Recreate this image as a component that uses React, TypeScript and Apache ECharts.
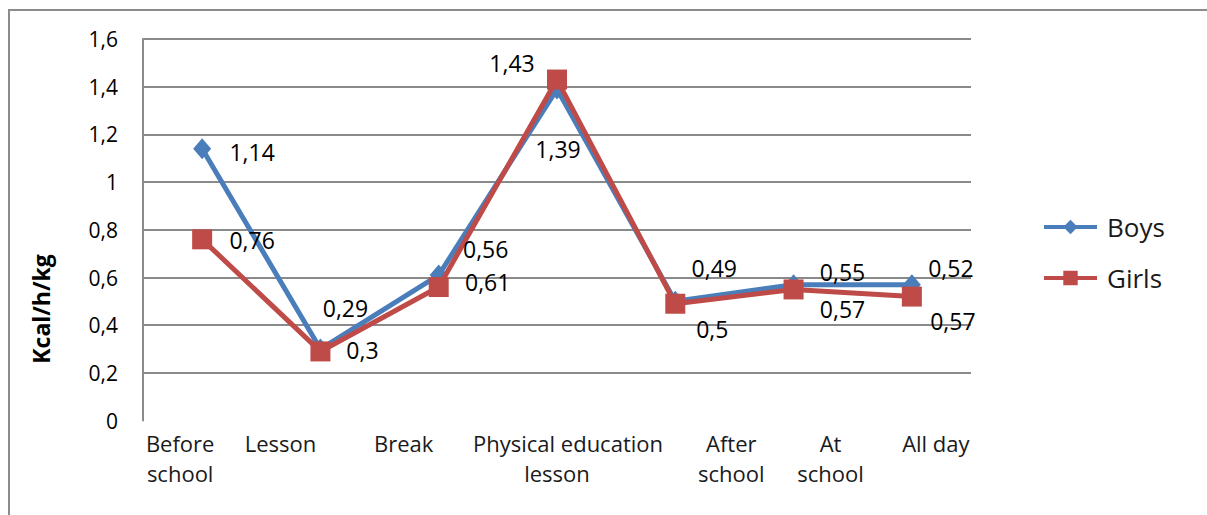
import React, { useEffect, useRef } from "react";
import * as echarts from "echarts";

const categories = [
  "Before school",
  "Lesson",
  "Break",
  "Physical education lesson",
  "After school",
  "At school",
  "All day",
];
const boys = [1.14, 0.3, 0.61, 1.39, 0.5, 0.57, 0.57];
const girls = [0.76, 0.29, 0.56, 1.43, 0.49, 0.55, 0.52];
const yTicks = { min: 0, max: 1.6, interval: 0.2 };
const yAxisTitle = "Kcal/h/kg";

// layout-only tables (label offsets, wrapped label lines)
const boysLabelOffsets = [[50, 3], [42, 1], [49, 7], [1, 60], [37, 28], [49, 24], [41, 36]];
const girlsLabelOffsets = [[50, 1], [25, -43], [47, -38], [-45, -17], [39, -36], [49, -17], [39, -29]];
const wrappedLines: string[][] = [
  ["Before", "school"],
  ["Lesson"],
  ["Break"],
  ["Physical education", "lesson"],
  ["After", "school"],
  ["At", "school"],
  ["All day"],
];
const lineShifts: number[][] = [[-22, -22], [-40], [-35], [11, 0], [56, 56], [37, 37], [24]];

const FONT = "Open Sans";
const BLUE = "#4A7EBB";
const RED = "#BE4B48";

const fmt = (v: number) => String(Math.round(v * 100) / 100).replace(".", ",");

export default function App() {
  const ref = useRef<HTMLDivElement>(null);
  useEffect(() => {
    if (!ref.current) return;
    const chart = echarts.init(ref.current, undefined, { renderer: "svg" });

    const rich: Record<string, any> = {};
    lineShifts.forEach((shifts, i) => {
      shifts.forEach((s, j) => {
        rich[`c${i}_${j}`] = {
          fontFamily: FONT,
          fontSize: 22,
          color: "#1a1a1a",
          lineHeight: 30,
          padding: s >= 0 ? [0, 0, 0, 2 * s] : [0, -2 * s, 0, 0],
        };
      });
    });

    const labelBase = {
      show: true,
      position: "inside" as const,
      fontFamily: FONT,
      fontSize: 23,
      lineHeight: 23,
      color: "#000",
      align: "center" as const,
      verticalAlign: "middle" as const,
      formatter: (p: any) => fmt(p.value),
    };

    chart.setOption({
      animation: false,
      backgroundColor: "#fff",
      grid: { left: 143, right: 1207 - 971, top: 39, bottom: 515 - 420.6, containLabel: false },
      legend: {
        orient: "vertical",
        left: 1037,
        top: 209,
        itemWidth: 53,
        itemHeight: 18,
        itemGap: 25,
        lineStyle: { width: 4 },
        textStyle: { fontFamily: FONT, fontSize: 26, color: "#1a1a1a", padding: [0, 0, 0, 5] },
        data: ["Boys", "Girls"],
      },
      xAxis: {
        type: "category",
        data: categories,
        boundaryGap: true,
        axisLine: { show: false },
        axisTick: { show: false },
        splitLine: { show: false },
        axisLabel: {
          margin: 7,
          interval: 0,
          verticalAlign: "top",
          formatter: (_v: string, i: number) =>
            wrappedLines[i].map((t, j) => `{c${i}_${j}|${t}}`).join("\n"),
          rich,
        },
      },
      yAxis: {
        type: "value",
        min: yTicks.min,
        max: yTicks.max,
        interval: yTicks.interval,
        axisLine: { show: true, lineStyle: { color: "#8a8a8a", width: 2 } },
        axisTick: { show: false },
        splitLine: { show: true, showMinLine: false, lineStyle: { color: "#8a8a8a", width: 2 } },
        axisLabel: {
          fontFamily: FONT,
          fontSize: 21,
          color: "#000",
          margin: 25,
          formatter: (v: number) => fmt(v),
        },
      },
      graphic: [
        {
          type: "rect",
          shape: { x: 9, y: 10, width: 1400, height: 700 },
          style: { fill: "none", stroke: "#8c8c8c", lineWidth: 2 },
          silent: true,
        },
        {
          type: "text",
          x: 41,
          y: 309,
          rotation: Math.PI / 2,
          style: {
            text: yAxisTitle,
            fontFamily: FONT,
            fontWeight: "bold",
            fontSize: 23,
            fill: "#000",
            align: "center",
            verticalAlign: "middle",
          },
        },
      ],
      series: [
        {
          name: "Boys",
          type: "line",
          symbol: "diamond",
          symbolSize: [18, 21],
          lineStyle: { color: BLUE, width: 5 },
          itemStyle: { color: BLUE },
          z: 2,
          label: labelBase,
          data: boys.map((v, i) => ({ value: v, label: { offset: boysLabelOffsets[i] } })),
        },
        {
          name: "Girls",
          type: "line",
          symbol: "rect",
          symbolSize: 20,
          lineStyle: { color: RED, width: 5 },
          itemStyle: { color: RED },
          z: 3,
          label: labelBase,
          data: girls.map((v, i) => ({ value: v, label: { offset: girlsLabelOffsets[i] } })),
        },
      ],
    });
    return () => chart.dispose();
  }, []);

  return (
    <div
      ref={ref}
      style={{ position: "absolute", left: 0, top: 0, width: 1207, height: 515 }}
    />
  );
}
